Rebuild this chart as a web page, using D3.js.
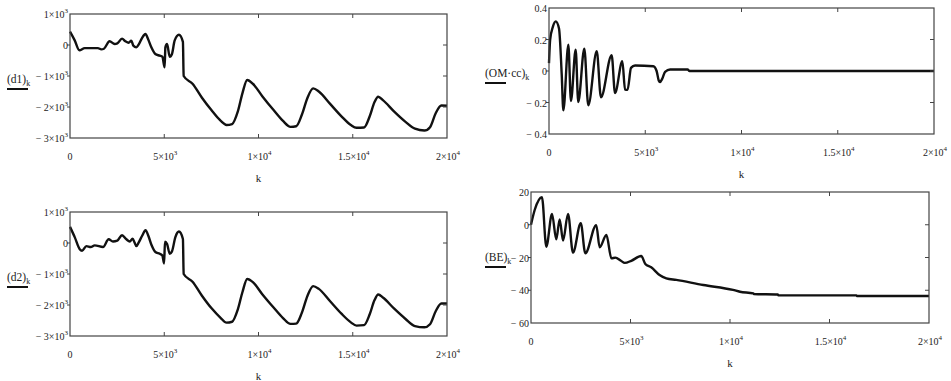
<!DOCTYPE html>
<html>
<head>
<meta charset="utf-8">
<script src="https://cdn.jsdelivr.net/npm/d3@7"></script>
<style>
  body { margin: 0; background: #fff; }
  text { font-family: "Liberation Serif", "Times New Roman", serif; fill: #222; }
</style>
</head>
<body>
<svg id="chart" width="951" height="381"></svg>
<script>
// ---- tick values / labels (label = [base, superscript]) ----
var xTicks = [0, 5000, 10000, 15000, 20000];
var xTickLabels = [["0", ""], ["5×10", "3"], ["1×10", "4"], ["1.5×10", "4"], ["2×10", "4"]];
var dTicks = [1000, 0, -1000, -2000, -3000];
var dTickLabels = [["1×10", "3"], ["0", ""], ["− 1×10", "3"], ["− 2×10", "3"], ["− 3×10", "3"]];
var omTicks = [0.4, 0.2, 0, -0.2, -0.4];
var omTickLabels = [["0.4", ""], ["0.2", ""], ["0", ""], ["− 0.2", ""], ["− 0.4", ""]];
var beTicks = [20, 0, -20, -40, -60];
var beTickLabels = [["20", ""], ["0", ""], ["− 20", ""], ["− 40", ""], ["− 60", ""]];

// ---- series ----
var d1K   = [0, 250, 500, 780, 1480, 1660, 1800, 2100, 2370, 2510, 2760, 2940, 3110, 3250, 3360, 3520, 3640, 3820, 4000, 4140, 4315, 4525, 4760, 4900, 5020, 5060, 5150, 5290, 5410, 5550, 5780, 5990, 6030,
             6500, 7000, 7500, 8000, 8300, 8600, 8900, 9150, 9400, 9700, 10200, 10800, 11300, 11700, 12000, 12300, 12600, 12900, 13200, 13800, 14400, 14900, 15200, 15600, 15900, 16150, 16350, 16600, 17200, 17800, 18300, 18800, 19100, 19400, 19700, 20000];
var d1Val = [430, 150, -170, -100, -100, -140, -120, 120, 30, 50, 205, 120, 75, 140, -20, -75, 10, 225, 355, 195, -75, -290, -345, -380, -720, -75, 30, -380, -290, 140, 330, 100, -1000,
             -1250, -1700, -2100, -2450, -2580, -2550, -2150, -1550, -1130, -1250, -1650, -2100, -2450, -2640, -2620, -2250, -1700, -1400, -1500, -1900, -2300, -2580, -2670, -2660, -2300, -1850, -1670, -1780, -2150, -2480, -2700, -2760, -2650, -2200, -1950, -1960];

var d2K   = [0, 250, 515, 640, 870, 1100, 1310, 1750, 2050, 2280, 2510, 2760, 2990, 3170, 3320, 3430, 3520, 3640, 3820, 4010, 4160, 4330, 4530, 4760, 4900, 4990, 5040, 5150, 5290, 5410, 5590, 5780, 5990, 6030,
             6500, 7000, 7500, 8000, 8300, 8600, 8900, 9150, 9400, 9700, 10200, 10800, 11300, 11700, 12000, 12300, 12600, 12900, 13200, 13800, 14400, 14900, 15200, 15600, 15900, 16150, 16350, 16600, 17200, 17800, 18300, 18800, 19100, 19400, 19700, 20000];
var d2Val = [520, 190, -200, -250, -100, -130, -75, -130, 120, 50, 75, 250, 120, 50, 140, 10, -100, 10, 225, 410, 225, -75, -290, -345, -400, -660, 40, -30, -345, -270, 190, 370, 130, -1000,
             -1250, -1700, -2100, -2420, -2570, -2540, -2150, -1580, -1160, -1260, -1650, -2080, -2420, -2610, -2600, -2250, -1700, -1390, -1480, -1880, -2280, -2560, -2665, -2650, -2300, -1850, -1660, -1760, -2120, -2450, -2680, -2720, -2620, -2200, -1950, -1950];

var omK   = [0, 60, 200, 350, 520, 660, 745, 1005, 1140, 1385, 1520, 1835, 2040, 2480, 2700, 3255, 3430, 3810, 3950, 4080, 4260, 4470, 5420, 5590, 5700, 5765, 5880, 6030, 6290, 7200, 7300, 20000];
var omVal = [0.05, 0.2, 0.28, 0.315, 0.27, -0.02, -0.25, 0.167, -0.19, 0.135, -0.197, 0.142, -0.218, 0.125, -0.167, 0.1, -0.14, 0.062, -0.118, -0.12, 0.02, 0.035, 0.03, 0.0, -0.06, -0.07, -0.05, -0.005, 0.01, 0.01, 0, 0];

var beK   = [0, 185, 550, 770, 1055, 1270, 1440, 1610, 1860, 2110, 2500, 2730, 3280, 3450, 3790, 4040, 4240, 4520, 4710, 5040, 5540, 5745, 6040, 6460, 6800, 7300, 8660, 10150, 10500, 11170, 11200, 12400, 12430, 16350, 16370, 20000];
var beVal = [0, 9, 16.8, -13.4, 6.6, -8.9, 3.3, -9.7, 6.6, -17, 0.9, -17.4, -0.2, -13.8, -6.3, -20.5, -20.1, -22, -23.3, -22, -19.1, -24, -26, -30.7, -32.7, -33.7, -36.8, -39.8, -40.9, -41.9, -42.3, -42.6, -43.1, -43.1, -43.5, -43.5];

/**
 * Constructor: one boxed Mathcad-style plot
 */
function KPlot(svg, opts){
  var self = this;
  self.svg = svg;
  self.opts = opts;
  self.init();
}; // end constructor

KPlot.prototype.init = function(){
  var self = this;
  var o = self.opts;

  self.x = d3.scaleLinear().domain([0, 20000]).range([o.left, o.right]);
  self.y = d3.scaleLinear().domain([o.yTicks[o.yTicks.length - 1], o.yTicks[0]]).range([o.bottom, o.top]);
  self.g = self.svg.append("g");
}; // end init()

// writes "base" with a small raised exponent
function addLabel(sel, lab){
  sel.append("tspan").text(lab[0]);
  if(lab[1] !== ""){
    sel.append("tspan").attr("dy", -5).attr("font-size", "7px").text(lab[1]);
  }
}

KPlot.prototype.visualize = function(){
  var self = this;
  var o = self.opts;
  var g = self.g;
  var tick = 4;

  // the curve first, box on top
  var pts = o.k.map(function(k, i){ return [k, o.v[i]]; });
  var line = d3.line()
    .x(function(d){ return self.x(d[0]); })
    .y(function(d){ return self.y(d[1]); })
    .curve(d3.curveMonotoneX);
  g.append("path")
    .datum(pts)
    .attr("d", line)
    .attr("fill", "none")
    .attr("stroke", "#111")
    .attr("stroke-width", 2.4)
    .attr("stroke-linejoin", "round");

  g.append("rect")
    .attr("x", o.left).attr("y", o.top)
    .attr("width", o.right - o.left).attr("height", o.bottom - o.top)
    .attr("fill", "none").attr("stroke", "#444").attr("stroke-width", 1.2);

  // x ticks on top and bottom, pointing in
  xTicks.slice(1, -1).forEach(function(t){
    var xx = self.x(t);
    g.append("line").attr("x1", xx).attr("x2", xx).attr("y1", o.top).attr("y2", o.top + tick).attr("stroke", "#444");
    g.append("line").attr("x1", xx).attr("x2", xx).attr("y1", o.bottom).attr("y2", o.bottom - tick).attr("stroke", "#444");
  });
  // y ticks: right side in, left side out
  o.yTicks.slice(1, -1).forEach(function(t){
    var yy = self.y(t);
    g.append("line").attr("x1", o.right).attr("x2", o.right - tick).attr("y1", yy).attr("y2", yy).attr("stroke", "#444");
    g.append("line").attr("x1", o.left).attr("x2", o.left - 3).attr("y1", yy).attr("y2", yy).attr("stroke", "#444");
  });

  // x tick labels
  xTicks.forEach(function(t, i){
    var txt = g.append("text")
      .attr("x", self.x(t) + (i == 0 ? 0 : 1))
      .attr("y", o.bottom + 22)
      .attr("text-anchor", "middle")
      .attr("font-size", "10px");
    addLabel(txt, xTickLabels[i]);
  });

  // y tick labels
  o.yTicks.forEach(function(t, i){
    var txt = g.append("text")
      .attr("x", o.left - 2)
      .attr("y", self.y(t) + 4)
      .attr("text-anchor", "end")
      .attr("font-size", "10px");
    addLabel(txt, o.yLabels[i]);
  });

  // axis name "k"
  g.append("text")
    .attr("x", (o.left + o.right) / 2)
    .attr("y", o.bottom + 44)
    .attr("text-anchor", "middle")
    .attr("font-size", "11px")
    .text("k");

  // y name with subscript and the short legend bar under it
  var nm = g.append("text")
    .attr("x", o.nameX)
    .attr("y", o.top + 69)
    .attr("font-size", "11.5px");
  nm.append("tspan").text(o.name);
  nm.append("tspan").attr("dy", 3).attr("font-size", "8px").text("k");
  g.append("line")
    .attr("x1", o.nameX).attr("x2", o.nameX + 21)
    .attr("y1", o.top + 75).attr("y2", o.top + 75)
    .attr("stroke", "#111").attr("stroke-width", 2);
}; // end visualize()

var svg = d3.select("#chart");

var panels = [
  {left: 70,  right: 447, top: 14,  bottom: 138, yTicks: dTicks,  yLabels: dTickLabels,  k: d1K, v: d1Val, name: "(d1)",    nameX: 7},
  {left: 70,  right: 447, top: 212, bottom: 336, yTicks: dTicks,  yLabels: dTickLabels,  k: d2K, v: d2Val, name: "(d2)",    nameX: 7},
  {left: 549, right: 934, top: 8,   bottom: 134, yTicks: omTicks, yLabels: omTickLabels, k: omK, v: omVal, name: "(OM·cc)", nameX: 485},
  {left: 531, right: 929, top: 192, bottom: 323, yTicks: beTicks, yLabels: beTickLabels, k: beK, v: beVal, name: "(BE)",    nameX: 485}
];

panels.forEach(function(p){
  var plot = new KPlot(svg, p);
  plot.visualize();
});
</script>
</body>
</html>
